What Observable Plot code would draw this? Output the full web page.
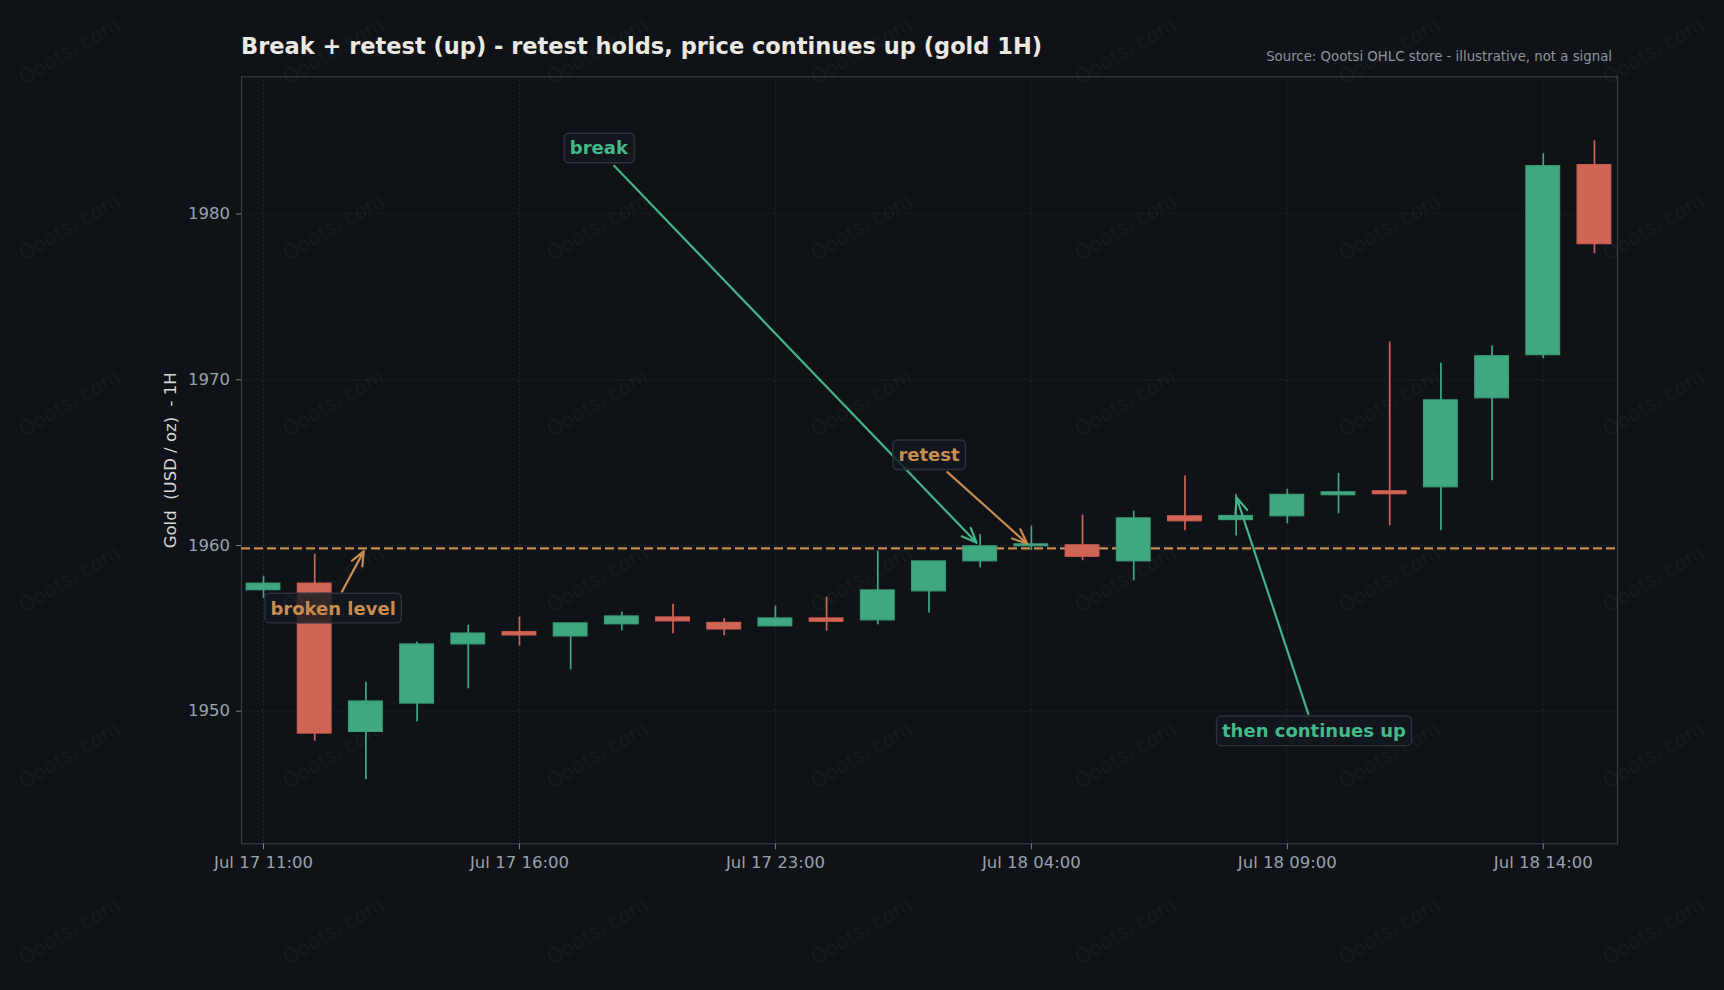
<!DOCTYPE html>
<html>
<head>
<meta charset="utf-8">
<script src="https://cdn.jsdelivr.net/npm/d3@7"></script>
<script src="https://cdn.jsdelivr.net/npm/@observablehq/plot@0.6"></script>
<style>
  html, body { margin: 0; padding: 0; background: #0f1217; }
  #fig { position: relative; width: 1724px; height: 990px; overflow: hidden; background: #0f1217; font-family: "DejaVu Sans", sans-serif; }
  #head { position: absolute; left: 0; top: 0; }
  #chart { position: absolute; left: 0; top: 70px; }
  #wm { position: absolute; left: 0; top: 0; pointer-events: none; }
  #chart text { white-space: pre; }
</style>
</head>
<body>
<div id="fig">
  <svg id="head" width="1724" height="70" xmlns="http://www.w3.org/2000/svg">
    <text x="241" y="54" font-family="DejaVu Sans, sans-serif" font-weight="bold" font-size="22.5" fill="#ebe8e2">Break + retest (up) - retest holds, price continues up (gold 1H)</text>
    <text x="1612" y="61" text-anchor="end" font-family="DejaVu Sans, sans-serif" font-size="13.3" fill="#8e959f">Source: Qootsi OHLC store - illustrative, not a signal</text>
  </svg>
  <div id="chart"></div>
  <svg id="wm" width="1724" height="990" xmlns="http://www.w3.org/2000/svg"></svg>
</div>
<script>
// Hourly gold candles (USD / oz)
const times = [
  "Jul 17 11:00", "Jul 17 12:00", "Jul 17 13:00", "Jul 17 14:00", "Jul 17 15:00",
  "Jul 17 16:00", "Jul 17 17:00", "Jul 17 18:00", "Jul 17 19:00", "Jul 17 20:00",
  "Jul 17 23:00", "Jul 18 00:00", "Jul 18 01:00", "Jul 18 02:00", "Jul 18 03:00",
  "Jul 18 04:00", "Jul 18 05:00", "Jul 18 06:00", "Jul 18 07:00", "Jul 18 08:00",
  "Jul 18 09:00", "Jul 18 10:00", "Jul 18 11:00", "Jul 18 12:00", "Jul 18 13:00",
  "Jul 18 14:00", "Jul 18 15:00"
];
const opens  = [1957.30, 1957.70, 1948.75, 1950.46, 1954.03, 1954.77, 1954.51, 1955.24, 1955.66, 1955.33,
                1955.12, 1955.60, 1955.48, 1957.23, 1959.04, 1959.95, 1960.01, 1959.04, 1961.76, 1961.53,
                1961.76, 1963.03, 1963.27, 1963.51, 1968.88, 1971.48, 1982.95];
const highs  = [1958.15, 1959.48, 1951.75, 1954.17, 1955.19, 1955.68, 1955.30, 1955.98, 1956.46, 1955.60,
                1956.34, 1956.88, 1959.66, 1959.04, 1960.67, 1961.17, 1961.84, 1962.08, 1964.19, 1963.09,
                1963.39, 1964.35, 1972.28, 1971.00, 1972.04, 1983.63, 1984.42];
const lows   = [1956.80, 1948.19, 1945.87, 1949.35, 1951.35, 1953.93, 1952.49, 1954.85, 1954.67, 1954.55,
                1955.10, 1954.83, 1955.21, 1955.92, 1958.65, 1959.70, 1959.08, 1957.87, 1960.89, 1960.57,
                1961.31, 1961.91, 1961.19, 1960.89, 1963.91, 1971.27, 1977.61];
const closes = [1957.70, 1948.65, 1950.59, 1954.03, 1954.69, 1954.57, 1955.30, 1955.72, 1955.42, 1954.93,
                1955.60, 1955.40, 1957.29, 1959.04, 1959.95, 1960.07, 1959.32, 1961.64, 1961.46, 1961.78,
                1963.06, 1963.21, 1963.09, 1968.76, 1971.42, 1982.89, 1978.18];

// Broken resistance level
const brokenLevel = [1959.82];

// Axis ticks
const yTicks = [1950, 1960, 1970, 1980];
const xTicks = [0, 5, 10, 15, 20, 25];
const yLabel = ["Gold  (USD / oz)  - 1H"];

// Callouts: label text and where the label and arrow sit
const noteText  = ["break", "retest", "broken level", "then continues up"];
const noteKind  = ["up", "level", "level", "up"];
const noteAt    = [[6.55, 1983.94], [13.0, 1965.43], [1.36, 1956.18], [20.52, 1948.77]];
const arrowFrom = [[6.85, 1982.91], [13.36, 1964.43], [1.53, 1957.20], [20.41, 1949.84]];
const arrowTo   = [[13.93, 1960.16], [14.92, 1960.10], [1.96, 1959.66], [19.01, 1962.88]];

const GREEN = "#40a880", RED = "#ce6557";
const GREEN_EDGE = "#3a9d77", RED_EDGE = "#d35f50";
const LEVEL = "#c58b4f";
const noteColor = {up: "#45b98a", level: "#c98d50"};
const arrowColor = {up: "#43b487", level: "#c58b4f"};

const candles = times.map((t, i) => ({
  i, t, o: opens[i], h: highs[i], l: lows[i], c: closes[i], up: closes[i] >= opens[i]
}));
const notes = noteText.map((text, k) => ({
  text, kind: noteKind[k],
  tx: noteAt[k][0], ty: noteAt[k][1],
  x1: arrowFrom[k][0], y1: arrowFrom[k][1],
  x2: arrowTo[k][0], y2: arrowTo[k][1]
}));

const chart = Plot.plot({
  width: 1724,
  height: 920,
  marginLeft: 241,
  marginRight: 107,
  marginTop: 6.3,
  marginBottom: 146.7,
  style: {background: "transparent", fontFamily: "'DejaVu Sans', sans-serif", fontSize: "16.5px", color: "#9aa3ad"},
  x: {domain: [-0.43, 26.45], axis: null, label: null},
  y: {domain: [1942.0, 1988.28], axis: null, label: null},
  color: {type: "identity"},
  marks: [
    Plot.gridX(xTicks, {stroke: "#2d323a", strokeOpacity: 1, strokeWidth: 1, strokeDasharray: "1.2,2.8"}),
    Plot.gridY(yTicks, {stroke: "#2d323a", strokeOpacity: 1, strokeWidth: 1, strokeDasharray: "1.2,2.8"}),
    Plot.frame({stroke: "#383d45", strokeWidth: 1.2}),
    Plot.axisX(xTicks, {tickFormat: i => times[i], tickSize: 6, tickPadding: 6, stroke: "#7f8690", fill: "#9aa3ad", label: null, fontSize: 16.5}),
    Plot.axisY(yTicks, {tickFormat: d => String(d), tickSize: 5, tickPadding: 6.5, stroke: "#7f8690", fill: "#9aa3ad", label: null, fontSize: 16.5}),
    Plot.text(yLabel, {frameAnchor: "left", textAnchor: "middle", rotate: -90, dx: -71, fill: "#d8d8d8", fontSize: 16.5}),
    Plot.ruleY(brokenLevel, {stroke: LEVEL, strokeWidth: 2.2, strokeDasharray: "9,4"}),
    Plot.ruleX(candles, {x: "i", y1: "l", y2: "h", stroke: d => d.up ? GREEN : RED, strokeWidth: 1.7}),
    Plot.rect(candles, {
      x1: d => d.i - 0.33, x2: d => d.i + 0.33,
      y1: d => Math.min(d.o, d.c), y2: d => Math.max(d.o, d.c),
      fill: d => d.up ? GREEN : RED, stroke: d => d.up ? GREEN_EDGE : RED_EDGE, strokeWidth: 1.1
    }),
    Plot.arrow(notes, {
      x1: "x1", y1: "y1", x2: "x2", y2: "y2",
      stroke: d => arrowColor[d.kind], strokeWidth: 2.2, headLength: 11, headAngle: 45, inset: 0
    }),
    Plot.text(notes, {
      x: "tx", y: "ty", text: "text", fill: d => noteColor[d.kind],
      fontWeight: "bold", fontSize: 18
    })
  ]
});
document.getElementById("chart").append(chart);

// Rounded boxes behind the callout labels
const noteSet = new Set(noteText);
chart.querySelectorAll("text").forEach(el => {
  if (!noteSet.has(el.textContent)) return;
  const b = el.getBBox();
  const r = document.createElementNS("http://www.w3.org/2000/svg", "rect");
  r.setAttribute("x", b.x - 5.5);
  r.setAttribute("y", b.y - 4.3);
  r.setAttribute("width", b.width + 11);
  r.setAttribute("height", b.height + 8.6);
  r.setAttribute("rx", 4.5);
  r.setAttribute("fill", "#14181e");
  r.setAttribute("fill-opacity", 0.82);
  r.setAttribute("stroke", "#2e333b");
  r.setAttribute("stroke-width", 1.4);
  const t = el.getAttribute("transform");
  if (t) r.setAttribute("transform", t);
  el.parentNode.insertBefore(r, el);
});

// Faint site watermark tiled over the figure
const wm = d3.select("#wm");
const wmCols = [70, 334, 598, 862, 1126, 1390, 1654];
const wmRows = [52, 228, 404, 580, 756, 932];
for (const y of wmRows) for (const x of wmCols) {
  wm.append("text")
    .attr("transform", `translate(${x},${y}) rotate(-30)`)
    .attr("text-anchor", "middle").attr("dominant-baseline", "middle")
    .attr("font-family", "DejaVu Sans, sans-serif").attr("font-size", 20)
    .attr("fill", "#ffffff").attr("fill-opacity", 0.05)
    .text("Qootsi.com");
}
</script>
</body>
</html>
